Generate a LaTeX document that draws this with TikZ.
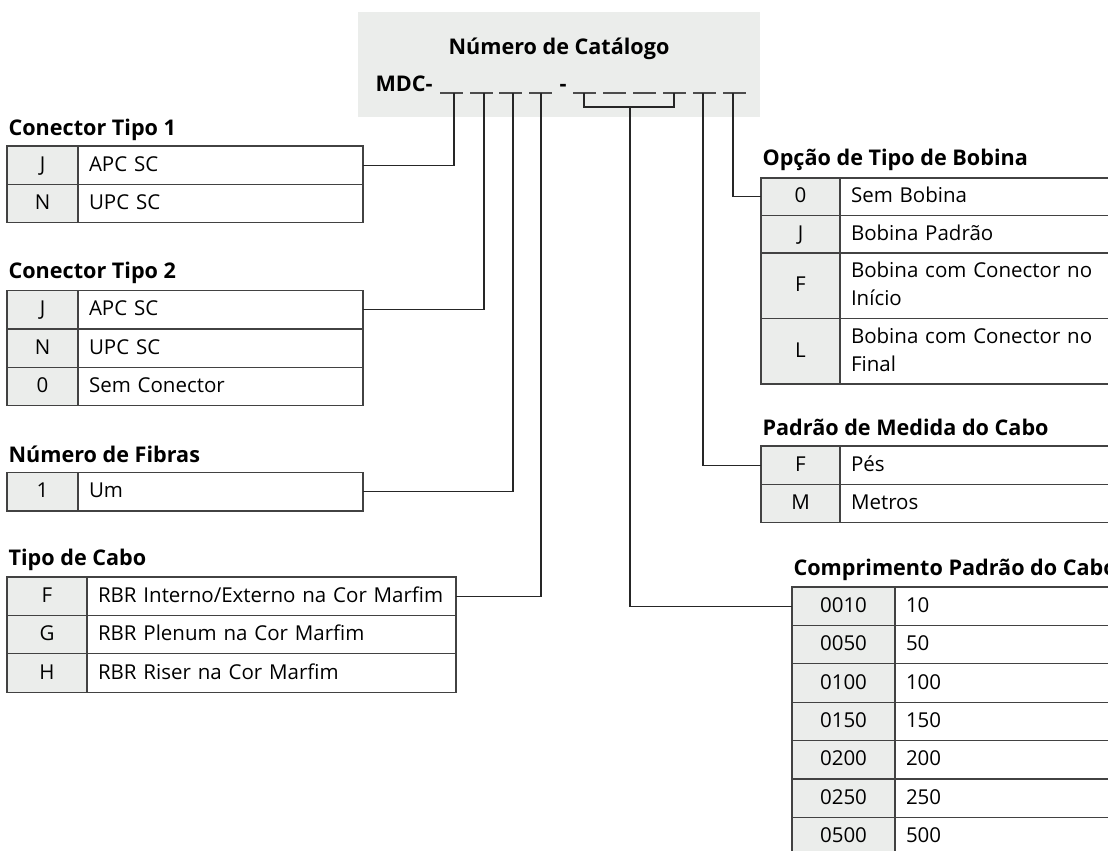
\documentclass[tikz,border=0pt]{standalone}
\usepackage{fontspec}
\setmainfont{Open Sans}
\usepackage{xcolor}
\usetikzlibrary{positioning}
\definecolor{cellgray}{RGB}{235,237,235}
\definecolor{linegray}{RGB}{66,66,66}

\begin{document}
\begin{tikzpicture}[x=1pt, y=-1pt, line width=1.2pt, draw=linegray, node distance=0pt, font=\fontsize{20.5}{28}\selectfont]
    \tikzstyle{code}=[draw=linegray, fill=cellgray, rectangle, minimum width=71pt, minimum height=38.4pt, inner sep=0pt, outer sep=0pt, text height=15pt, text depth=3pt]
    \tikzstyle{codeL}=[code, minimum width=80pt]
    \tikzstyle{codeR}=[code, minimum width=79pt]
    \tikzstyle{codeW}=[code, minimum width=103pt]
    \tikzstyle{desc}=[draw=linegray, rectangle, minimum height=38.4pt, inner xsep=11pt, inner ysep=0pt, outer sep=0pt, text width=263pt, align=left, text height=15pt, text depth=3pt]
    \tikzstyle{twoline}=[minimum height=65.5pt, text depth=31pt]
    \tikzstyle{head}=[anchor=base west, inner sep=0pt, font=\fontsize{21.6}{25}\selectfont\bfseries]
    \tikzstyle{conn}=[draw=black!85, line width=1.2pt]
    \tikzstyle{slot}=[draw=black!70, line width=1.2pt]

    \useasboundingbox (0,0) rectangle (1108,851);
    \clip (0,0) rectangle (1108,851);

    %% Catalogue number
    \fill[cellgray] (358,12) rectangle (760,117);
    \node[head, anchor=base] (title) at (559,55) {Número de Catálogo};
    \node[head] (mdc) at (375,92) {MDC-};
    \node[head] (dash) at (559,92) {-};
    \draw[slot] (440,93) -- (463,93) (470,93) -- (493,93) (499,93) -- (522,93) (529,93) -- (552,93)
        (573,93) -- (596,93) (603,93) -- (626,93) (633,93) -- (656,93) (663,93) -- (686,93)
        (693,93) -- (716,93) (723,93) -- (746,93);
    \coordinate (s1) at (454,93);
    \coordinate (s2) at (484,93);
    \coordinate (s3) at (513,93);
    \coordinate (s4) at (541,93);
    \coordinate (b5) at (584,93);
    \coordinate (b8) at (674,93);
    \coordinate (bm) at (630,107);
    \coordinate (s9) at (703,93);
    \coordinate (s10) at (733,93);

    %% Conector Tipo 1
    \node[head] (h1) at (8,135) {Conector Tipo 1};
    \node[code, anchor=north west] (c1j) at (7,146) {J};
    \node[desc, right=of c1j] (d1j) {APC SC};
    \node[code, below=of c1j] (c1n) {N};
    \node[desc, right=of c1n] (d1n) {UPC SC};

    %% Conector Tipo 2
    \node[head] (h2) at (8,278) {Conector Tipo 2};
    \node[code, anchor=north west] (c2j) at (7,290.5) {J};
    \node[desc, right=of c2j] (d2j) {APC SC};
    \node[code, below=of c2j] (c2n) {N};
    \node[desc, right=of c2n] (d2n) {UPC SC};
    \node[code, below=of c2n] (c2z) {0};
    \node[desc, right=of c2z] (d2z) {Sem Conector};

    %% Numero de Fibras
    \node[head] (h3) at (8,462) {Número de Fibras};
    \node[code, anchor=north west] (c3u) at (7,472.5) {1};
    \node[desc, right=of c3u] (d3u) {Um};

    %% Tipo de Cabo
    \node[head] (h4) at (8,565) {Tipo de Cabo};
    \node[codeL, anchor=north west] (c4f) at (7,577) {F};
    \node[desc, text width=347pt, right=of c4f] (d4f) {RBR Interno/Externo na Cor Marfim};
    \node[codeL, below=of c4f] (c4g) {G};
    \node[desc, text width=347pt, right=of c4g] (d4g) {RBR Plenum na Cor Marfim};
    \node[codeL, below=of c4g] (c4h) {H};
    \node[desc, text width=347pt, right=of c4h] (d4h) {RBR Riser na Cor Marfim};

    %% Opcao de Tipo de Bobina
    \node[head] (h5) at (762,165) {Opção de Tipo de Bobina};
    \node[codeR, anchor=north west, minimum height=37.5pt] (c5z) at (761,178) {0};
    \node[desc, text width=258pt, minimum height=37.5pt, right=of c5z] (d5z) {Sem Bobina};
    \node[codeR, minimum height=37.5pt, below=of c5z] (c5j) {J};
    \node[desc, text width=258pt, minimum height=37.5pt, right=of c5j] (d5j) {Bobina Padrão};
    \node[codeR, minimum height=65.5pt, below=of c5j] (c5f) {F};
    \node[desc, twoline, text width=258pt, right=of c5f] (d5f) {Bobina com Conector no\\Início};
    \node[codeR, minimum height=65.5pt, below=of c5f] (c5l) {L};
    \node[desc, twoline, text width=258pt, right=of c5l] (d5l) {Bobina com Conector no\\Final};

    %% Padrao de Medida do Cabo
    \node[head] (h6) at (762,435) {Padrão de Medida do Cabo};
    \node[codeR, anchor=north west] (c6f) at (761,446) {F};
    \node[desc, text width=258pt, right=of c6f] (d6f) {Pés};
    \node[codeR, below=of c6f] (c6m) {M};
    \node[desc, text width=258pt, right=of c6m] (d6m) {Metros};

    %% Comprimento Padrao do Cabo
    \node[head] (h7) at (793,575) {Comprimento Padrão do Cabo};
    \node[codeW, anchor=north west] (c7a) at (792,587) {0010};
    \node[desc, text width=203pt, right=of c7a] (d7a) {10};
    \node[codeW, below=of c7a] (c7b) {0050};
    \node[desc, text width=203pt, right=of c7b] (d7b) {50};
    \node[codeW, below=of c7b] (c7c) {0100};
    \node[desc, text width=203pt, right=of c7c] (d7c) {100};
    \node[codeW, below=of c7c] (c7d) {0150};
    \node[desc, text width=203pt, right=of c7d] (d7d) {150};
    \node[codeW, below=of c7d] (c7e) {0200};
    \node[desc, text width=203pt, right=of c7e] (d7e) {200};
    \node[codeW, below=of c7e] (c7f) {0250};
    \node[desc, text width=203pt, right=of c7f] (d7f) {250};
    \node[codeW, below=of c7f] (c7g) {0500};
    \node[desc, text width=203pt, right=of c7g] (d7g) {500};

    %% Connectors
    \draw[conn] (s1) |- (d1j.east);
    \draw[conn] (s2) |- (d2j.east);
    \draw[conn] (s3) |- (d3u.east);
    \draw[conn] (s4) |- (d4f.east);
    \draw[conn] (b5) -- (b5 |- bm) -- (b8 |- bm) -- (b8);
    \draw[conn] (bm) |- (c7a.west);
    \draw[conn] (s9) |- (c6f.west);
    \draw[conn] (s10) |- (c5z.west);
\end{tikzpicture}
\end{document}
